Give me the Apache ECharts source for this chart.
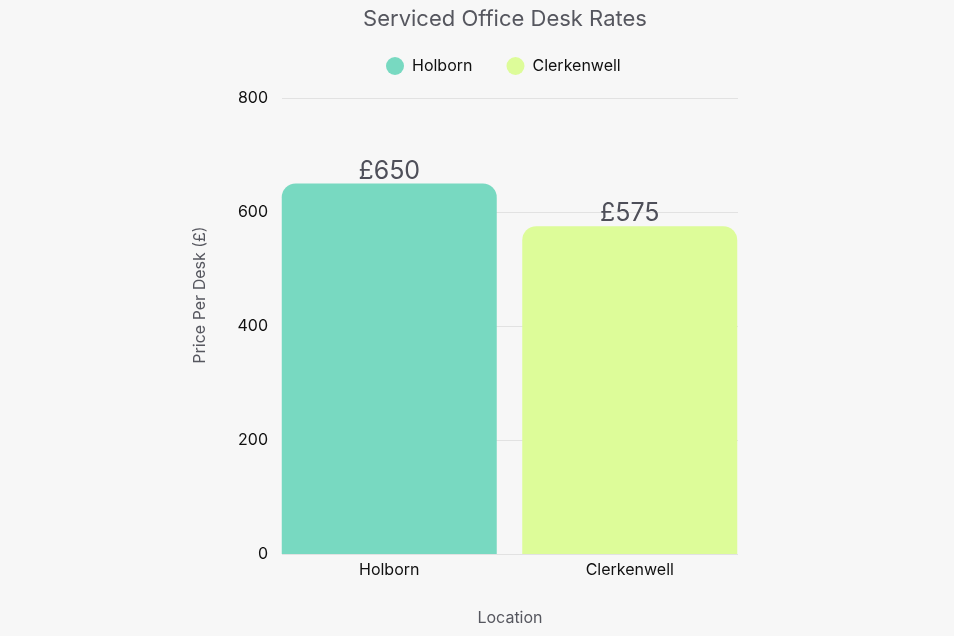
<!DOCTYPE html>
<html><head><meta charset="utf-8">
<script src="https://cdn.jsdelivr.net/npm/echarts@6/dist/echarts.min.js"></script>
<style>html,body{margin:0;padding:0;background:#f7f7f7;}#c{width:954px;height:636px;}</style>
</head><body><div id="c"></div>
<script>
const categories = ['Holborn', 'Clerkenwell'];
const holbornValues = [650, '-'];
const clerkenwellValues = ['-', 575];
const yTicks = [0, 200, 400, 600, 800];

const FONT = 'Inter, sans-serif';
const chart = echarts.init(document.getElementById('c'));
chart.setOption({
  backgroundColor: '#f7f7f7',
  animation: false,
  textStyle: { fontFamily: FONT },
  graphic: [
    { type: 'text', x: 505, y: 19, style: { text: 'Serviced Office Desk Rates', font: '22px ' + FONT, fill: '#56575f', align: 'center', verticalAlign: 'middle' } },
    { type: 'text', x: 200, y: 295, rotation: Math.PI / 2, style: { text: 'Price Per Desk (£)', font: '16px ' + FONT, fill: '#56575f', align: 'center', verticalAlign: 'middle' } },
    { type: 'text', x: 510, y: 618, style: { text: 'Location', font: '16px ' + FONT, fill: '#56575f', align: 'center', verticalAlign: 'middle' } }
  ],
  legend: {
    top: 57, left: 386, padding: 0, itemWidth: 18, itemHeight: 18, itemGap: 34, icon: 'circle',
    textStyle: { fontSize: 16, color: '#111', fontFamily: FONT, padding: [0, 0, 0, 3] },
    data: categories
  },
  grid: [
    { left: 282, right: 216, top: 98, bottom: 82 },
    { left: 269, right: 204, top: 98, bottom: 82 }
  ],
  xAxis: [
    { gridIndex: 0, type: 'value', show: false, min: 0, max: 1 },
    { gridIndex: 1, type: 'category', data: categories, axisLine: { show: false }, axisTick: { show: false },
      axisLabel: { fontSize: 16, color: '#111', margin: 8, fontFamily: FONT } }
  ],
  yAxis: [
    { gridIndex: 0, type: 'value', min: yTicks[0], max: yTicks[yTicks.length - 1], interval: 200,
      axisLine: { show: false }, axisTick: { show: false },
      axisLabel: { fontSize: 16, color: '#111', margin: 14, fontFamily: FONT },
      splitLine: { lineStyle: { color: '#e2e2e2', width: 1 } } },
    { gridIndex: 1, type: 'value', min: 0, max: 800, show: false, splitLine: { show: false } }
  ],
  series: [
    { name: 'Holborn', type: 'bar', xAxisIndex: 1, yAxisIndex: 1, stack: 's', data: holbornValues, barWidth: 215,
      itemStyle: { color: '#78d9c1', borderRadius: [14, 14, 0, 0] },
      label: { show: true, position: 'top', distance: 0, formatter: p => '£' + p.value, fontSize: 25, color: '#4e4f59', fontFamily: FONT } },
    { name: 'Clerkenwell', type: 'bar', xAxisIndex: 1, yAxisIndex: 1, stack: 's', data: clerkenwellValues, barWidth: 215,
      itemStyle: { color: '#ddfc99', borderRadius: [14, 14, 0, 0] },
      label: { show: true, position: 'top', distance: 0, formatter: p => '£' + p.value, fontSize: 25, color: '#4e4f59', fontFamily: FONT } }
  ]
});
</script></body></html>
